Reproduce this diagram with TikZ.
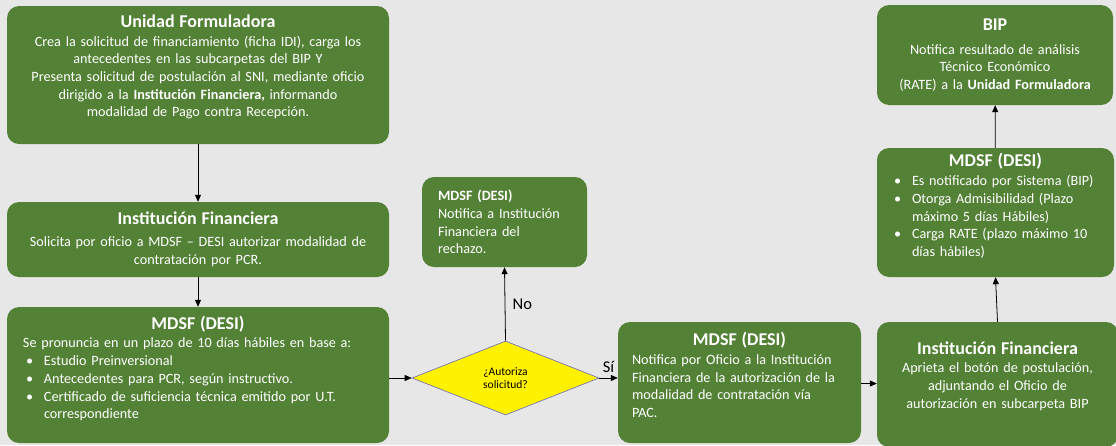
\documentclass[tikz,border=0pt]{standalone}
\usepackage{fontspec}
\setmainfont{Carlito}
\usetikzlibrary{shapes.geometric,arrows.meta}
\definecolor{boxgreen}{HTML}{538135}
\definecolor{pagegray}{HTML}{E7E7E7}
\newcommand*{\ttl}[1]{{\centering\fontsize{18}{20}\selectfont\bfseries #1\par}\vspace{1pt}}
\newcommand*{\itm}[1]{\par\hangindent=21pt\hangafter=1\noindent
  \makebox[21pt][l]{\hspace{3pt}\textbullet}#1}
\tikzset{
  box/.style={draw=none,fill=boxgreen,rounded corners=12pt,text=white,
    font=\fontsize{14.2}{17.7}\selectfont,inner xsep=14pt,inner ysep=4pt},
  flow/.style={-{Triangle[length=7pt,width=6pt]},line width=0.8pt,black},
  lbl/.style={font=\fontsize{16.5}{18}\selectfont,text=black}
}

\begin{document}
\begin{tikzpicture}[x=1pt,y=-1pt]
% Page, with the y axis going down
\fill[pagegray] (0,0) rectangle (1116,445);
\useasboundingbox (0,0) rectangle (1116,445);
% Left column
\node[box,align=center,text width=354pt,minimum height=138pt] (uf) at (198,75)
  {\ttl{Unidad Formuladora}
   Crea la solicitud de financiamiento (ficha IDI), carga los\\
   antecedentes en las subcarpetas del BIP Y\\
   Presenta solicitud de postulación al SNI, mediante oficio\\
   dirigido a la \textbf{Institución Financiera,} informando\\
   modalidad de Pago contra Recepción.\par\vspace*{16pt}};
\node[box,align=center,text width=354pt,minimum height=75pt] (ifin) at (198,239.5)
  {\vspace*{3pt}\ttl{Institución Financiera}
   Solicita por oficio a MDSF – DESI autorizar modalidad de\\
   contratación por PCR.};
\node[box,align=left,text width=350pt,inner xsep=16pt,minimum height=136pt] (pron) at (198,375)
  {\ttl{MDSF (DESI)}
   Se pronuncia en un plazo de 10 días hábiles en base a:
   \itm{Estudio Preinversional}
   \itm{Antecedentes para PCR, según instructivo.}
   \itm{Certificado de suficiencia técnica emitido por U.T.\newline correspondiente}
   \par\vspace*{13pt}};
% Decision and rejection
\node[diamond,aspect=2.5,fill=yellow,draw=black!40!blue!60,line width=0.6pt,
  minimum width=187pt,minimum height=74pt,inner sep=0pt,align=center,
  font=\fontsize{11.5}{13}\selectfont] (dec) at (505.5,378)
  {¿Autoriza\\ solicitud?};
\node[box,align=left,text width=133pt,inner xsep=16pt,minimum height=90pt] (rech) at (504.5,222)
  {\textbf{MDSF (DESI)}\\
   Notifica a Institución\\
   Financiera del\\
   rechazo.};
% Right side
\node[box,align=left,text width=215pt,minimum height=121pt] (pac) at (739.5,382.5)
  {\ttl{MDSF (DESI)}
   Notifica por Oficio a la Institución\\
   Financiera de la autorización de la\\
   modalidad de contratación vía\\
   PAC.\par\vspace*{15pt}};
\node[box,align=center,text width=213pt,minimum height=125pt] (if2) at (997.5,384.5)
  {\ttl{Institución Financiera}
   Aprieta el botón de postulación,\\
   adjuntando el Oficio de\\
   autorización en subcarpeta BIP\par\vspace*{17pt}};
\node[box,align=left,text width=209pt,minimum height=129pt] (desi) at (995.5,212.5)
  {\ttl{MDSF (DESI)}
   \itm{Es notificado por Sistema (BIP)}
   \itm{Otorga Admisibilidad (Plazo\newline máximo 5 días Hábiles)}
   \itm{Carga RATE (plazo máximo 10\newline días hábiles)}
   \par\vspace*{13pt}};
\node[box,align=center,text width=208pt,minimum height=100pt] (bip) at (995,55)
  {\vspace*{5pt}\ttl{BIP}
   Notifica resultado de análisis\\
   Técnico Económico\\
   (RATE) a la \textbf{Unidad Formuladora}};
% Connectors
\draw[flow] (uf) -- (ifin);
\draw[flow] (ifin) -- (pron);
\draw[flow] (pron.east |- dec.west) -- (dec.west);
\draw[flow] (dec.north) -- node[lbl,right,xshift=4pt] (no) {No} (rech.south);
\draw[flow] (dec.east) -- node[lbl,above,yshift=2pt] (si) {Sí} (dec.east -| pac.west);
\draw[flow] (pac) -- (if2);
\draw[flow] (if2.north) -- (desi.south);
\draw[flow] (desi) -- (bip);
\end{tikzpicture}
\end{document}
